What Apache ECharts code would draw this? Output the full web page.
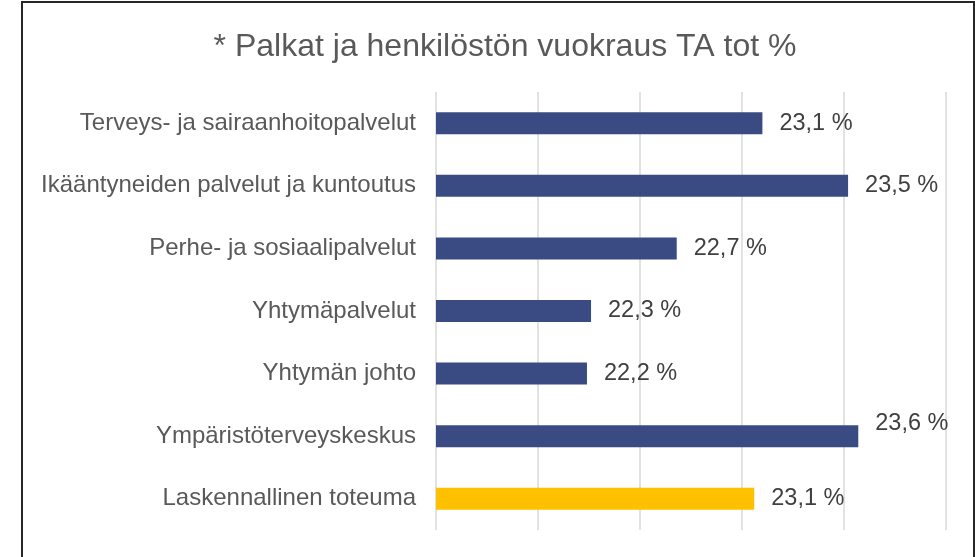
<!DOCTYPE html>
<html>
<head>
<meta charset="utf-8">
<script src="https://cdn.jsdelivr.net/npm/echarts@6/dist/echarts.min.js"></script>
<style>
html,body{margin:0;padding:0;background:#fff;}
#chart{width:975px;height:557px;}
</style>
</head>
<body>
<div id="chart"></div>
<script>
const titleText = '* Palkat ja henkilöstön vuokraus TA tot %';
const categories = [
  'Terveys- ja sairaanhoitopalvelut',
  'Ikääntyneiden palvelut ja kuntoutus',
  'Perhe- ja sosiaalipalvelut',
  'Yhtymäpalvelut',
  'Yhtymän johto',
  'Ympäristöterveyskeskus',
  'Laskennallinen toteuma'
];
const values = [23.10, 23.52, 22.68, 22.26, 22.24, 23.57, 23.06];
const highlightIndex = 6;      // the "Laskennallinen toteuma" bar
const raisedLabelIndex = 5;    // label lifted above the bar
const axisMin = 21.5, axisMax = 24, axisStep = 0.5;

const FONT = '"Liberation Sans", Arial, sans-serif';
const chart = echarts.init(document.getElementById('chart'), null, {renderer: 'canvas'});

const seriesData = values.map((v, i) => {
  const item = {value: v, itemStyle: {color: i === highlightIndex ? '#FFC000' : '#3A4B83'}};
  if (i === raisedLabelIndex) item.label = {offset: [0, -13]};
  return item;
});

chart.setOption({
  animation: false,
  backgroundColor: '#ffffff',
  title: {
    text: titleText,
    left: 500,
    top: 26,
    textAlign: 'center',
    textStyle: {fontFamily: FONT, fontSize: 32, fontWeight: 'normal', color: '#595959'}
  },
  graphic: [{
    type: 'rect',
    shape: {x: 22, y: 2, width: 952, height: 600},
    style: {fill: 'none', stroke: '#262626', lineWidth: 2},
    silent: true
  }],
  grid: {left: 436, right: 29, top: 92, bottom: 27, containLabel: false},
  xAxis: {
    type: 'value',
    min: axisMin, max: axisMax, interval: axisStep,
    axisLabel: {show: false},
    axisLine: {show: false},
    axisTick: {show: false},
    splitLine: {show: true, lineStyle: {color: '#D9D9D9', width: 1.5}}
  },
  yAxis: {
    type: 'category',
    data: categories,
    inverse: true,
    axisLine: {show: false},
    axisTick: {show: false},
    axisLabel: {margin: 20, fontFamily: FONT, fontSize: 24, color: '#595959'}
  },
  series: [{
    type: 'bar',
    data: seriesData,
    barWidth: 22,
    label: {
      show: true,
      position: 'right',
      distance: 17,
      fontFamily: FONT,
      fontSize: 23.5,
      color: '#404040',
      formatter: p => p.value.toFixed(1).replace('.', ',') + ' %'
    }
  }]
});
</script>
</body>
</html>
